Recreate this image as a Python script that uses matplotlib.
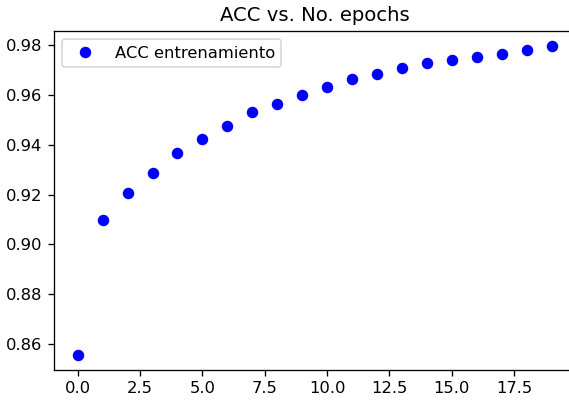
import matplotlib
matplotlib.use("Agg")
import matplotlib.pyplot as plt

epochs = list(range(20))
acc_entrenamiento = [0.8557, 0.9099, 0.9205, 0.9286, 0.9368, 0.9424, 0.9476,
                     0.9533, 0.9564, 0.9601, 0.9633, 0.9664, 0.9684, 0.9707,
                     0.9727, 0.9739, 0.9751, 0.9764, 0.9781, 0.9795]

# la imagen original parece escalada (~118 dpi)
dpi = 118
fig = plt.figure(figsize=(569 / dpi, 400 / dpi), dpi=dpi)
ax = fig.add_axes([0.0949, 0.075, 0.916, 0.8475])

ax.plot(epochs, acc_entrenamiento, 'bo', label='ACC entrenamiento')
ax.set_title('ACC vs. No. epochs')
ax.legend(loc='upper left')
ax.set_ylim(0.8496, 0.9856)

fig.savefig('out.png', dpi=dpi)
